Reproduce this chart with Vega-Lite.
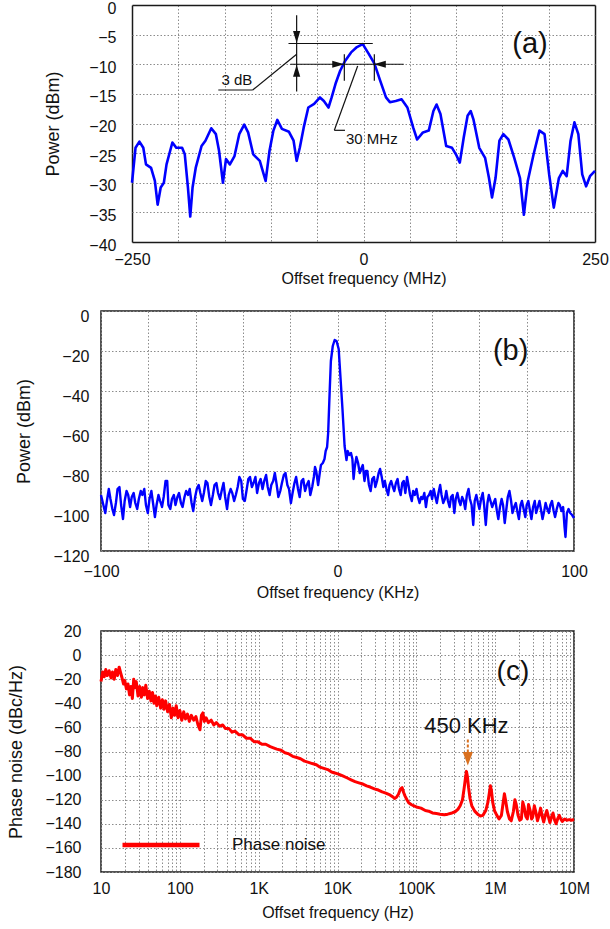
{
  "$schema": "https://vega.github.io/schema/vega-lite/v6.json",
  "padding": {"left": 7, "top": 0, "right": 3, "bottom": 4},
  "background": "white",
  "columns": 1,
  "spacing": 20,
  "resolve": {"scale": {"color": "independent", "shape": "independent"}},
  "datasets": {
    "a": [
      {"f":-250,"p":-30},{"f":-246.2,"p":-24.1},{"f":-242,"p":-23.05},{"f":-237.8,"p":-24.1},{"f":-234.9,"p":-26.9},{"f":-229.4,"p":-27.5},{"f":-225.3,"p":-29.7},{"f":-222.3,"p":-33.7},{"f":-219,"p":-30.8},{"f":-215.6,"p":-30},{"f":-212.7,"p":-26.9},{"f":-206.4,"p":-23.2},{"f":-202.2,"p":-24.1},{"f":-195.9,"p":-24.1},{"f":-193,"p":-25.2},{"f":-189.6,"p":-30.8},{"f":-187.1,"p":-35.7},{"f":-184.6,"p":-30.8},{"f":-181.2,"p":-27.5},{"f":-174.9,"p":-23.8},{"f":-170.7,"p":-22.9},{"f":-164.4,"p":-20.8},{"f":-159.4,"p":-21.8},{"f":-156,"p":-24.6},{"f":-151.8,"p":-30},{"f":-148.5,"p":-26},{"f":-144.3,"p":-26.9},{"f":-139.3,"p":-25.5},{"f":-134.2,"p":-21.8},{"f":-128.8,"p":-20.2},{"f":-124.6,"p":-21.5},{"f":-119.1,"p":-25.2},{"f":-112,"p":-26.3},{"f":-105.7,"p":-29.7},{"f":-101.5,"p":-24.6},{"f":-97.3,"p":-21.2},{"f":-93.1,"p":-19.4},{"f":-88.1,"p":-20.9},{"f":-80.5,"p":-21.4},{"f":-75.5,"p":-22.9},{"f":-72.2,"p":-26.3},{"f":-68.8,"p":-24.1},{"f":-64.6,"p":-20.7},{"f":-59.6,"p":-17.3},{"f":-53.3,"p":-16.7},{"f":-47,"p":-15.6},{"f":-42.8,"p":-16.2},{"f":-37.8,"p":-17.3},{"f":-34.4,"p":-15.6},{"f":-30.2,"p":-13.3},{"f":-25.2,"p":-11.1},{"f":-19.7,"p":-9.4},{"f":-13.4,"p":-8},{"f":-7.1,"p":-7.1},{"f":-0.8,"p":-6.6},{"f":5.5,"p":-8.2},{"f":11.8,"p":-9.9},{"f":18.1,"p":-12.8},{"f":24.3,"p":-15.6},{"f":28.5,"p":-16.4},{"f":34.8,"p":-16.2},{"f":41.1,"p":-15.9},{"f":47.4,"p":-17.3},{"f":53.7,"p":-20.7},{"f":57.9,"p":-22.7},{"f":64.2,"p":-21.5},{"f":70.5,"p":-21.2},{"f":75.5,"p":-17.9},{"f":78.9,"p":-16.8},{"f":83.1,"p":-18.4},{"f":89.3,"p":-23.8},{"f":95.6,"p":-24.1},{"f":99.8,"p":-25.2},{"f":104,"p":-26.6},{"f":108.2,"p":-22.4},{"f":112.4,"p":-18.7},{"f":115.8,"p":-17.9},{"f":118.7,"p":-19.3},{"f":125,"p":-24.1},{"f":131.3,"p":-25.8},{"f":135.5,"p":-29.2},{"f":138.8,"p":-32.5},{"f":142.6,"p":-29.2},{"f":146.8,"p":-22.9},{"f":151,"p":-21.8},{"f":156.5,"p":-22.7},{"f":162.8,"p":-25.8},{"f":169,"p":-29.2},{"f":173.2,"p":-35.4},{"f":177.4,"p":-29.7},{"f":183.7,"p":-25.2},{"f":190,"p":-21.2},{"f":195.5,"p":-21.8},{"f":200.5,"p":-28.6},{"f":205.5,"p":-34.2},{"f":211,"p":-29.2},{"f":215.2,"p":-28},{"f":219.4,"p":-28.9},{"f":223.6,"p":-22.9},{"f":227.8,"p":-19.8},{"f":232,"p":-21.8},{"f":236.2,"p":-28.6},{"f":240.4,"p":-30.6},{"f":244.6,"p":-28.9},{"f":250,"p":-28}
    ],
    "aSeg": [
      {"f":-72.2,"f2":-72.2,"p":-1.75,"p2":-14.6},
      {"f":-81,"f2":10,"p":-6.5,"p2":-6.5},
      {"f":-79,"f2":43.4,"p":-10,"p2":-10},
      {"f":-72.2,"f2":-119.7,"p":-8.3,"p2":-14.35},
      {"f":-119.7,"f2":-156.8,"p":-14.35,"p2":-14.35},
      {"f":-20.7,"f2":-20.7,"p":-8.3,"p2":-12.8},
      {"f":11.7,"f2":11.7,"p":-8.3,"p2":-12.8},
      {"f":-6.3,"f2":-31.5,"p":-10.3,"p2":-21.15},
      {"f":-31.5,"f2":-20,"p":-21.15,"p2":-21.15}
    ],
    "aArrow": [
      {"f":-72.2,"p":-5.4,"dir":"down"},
      {"f":-72.2,"p":-11.1,"dir":"up"},
      {"f":-27.3,"p":-10,"dir":"right"},
      {"f":17.6,"p":-10,"dir":"left"}
    ],
    "aText": [
      {"f":-136.8,"p":-12.6,"t":"3 dB"},
      {"f":9.0,"p":-22.6,"t":"30 MHz"}
    ],
    "b": [
      {"f":-100,"p":-92},{"f":-99,"p":-97},{"f":-98.2,"p":-101},{"f":-97.5,"p":-95},{"f":-96.7,"p":-89},{"f":-96,"p":-94},{"f":-95.2,"p":-99},{"f":-94.5,"p":-102},{"f":-93.7,"p":-96},{"f":-93,"p":-89},{"f":-92.2,"p":-88},{"f":-91.5,"p":-97},{"f":-90.7,"p":-104},{"f":-90,"p":-95},{"f":-89.2,"p":-90},{"f":-88.5,"p":-92},{"f":-87.7,"p":-98},{"f":-87,"p":-93},{"f":-86.2,"p":-91},{"f":-85.5,"p":-96},{"f":-84.7,"p":-99},{"f":-84,"p":-94},{"f":-83.2,"p":-90},{"f":-82.5,"p":-92},{"f":-81.7,"p":-89},{"f":-81,"p":-97},{"f":-80.2,"p":-101},{"f":-79.5,"p":-94},{"f":-78.7,"p":-90},{"f":-78,"p":-96},{"f":-77.2,"p":-103},{"f":-76.5,"p":-97},{"f":-75.7,"p":-92},{"f":-75,"p":-95},{"f":-74.2,"p":-98},{"f":-73.5,"p":-93},{"f":-72.7,"p":-85},{"f":-72,"p":-85},{"f":-71.5,"p":-97},{"f":-70.7,"p":-99},{"f":-70,"p":-94},{"f":-69.2,"p":-92},{"f":-68.5,"p":-97},{"f":-67.7,"p":-93},{"f":-67,"p":-91},{"f":-66.2,"p":-96},{"f":-65.5,"p":-98},{"f":-64.7,"p":-93},{"f":-64,"p":-90},{"f":-63.2,"p":-92},{"f":-62.5,"p":-89},{"f":-61.7,"p":-96},{"f":-61,"p":-100},{"f":-60.2,"p":-93},{"f":-59.5,"p":-89},{"f":-58.7,"p":-87},{"f":-58,"p":-91},{"f":-57.2,"p":-95},{"f":-56.5,"p":-91},{"f":-55.7,"p":-85},{"f":-55,"p":-86},{"f":-54.2,"p":-93},{"f":-53.5,"p":-97},{"f":-52.7,"p":-92},{"f":-52,"p":-87},{"f":-51.2,"p":-86},{"f":-50.5,"p":-91},{"f":-49.7,"p":-94},{"f":-49,"p":-90},{"f":-48.2,"p":-86},{"f":-47.5,"p":-93},{"f":-46.7,"p":-99},{"f":-46,"p":-92},{"f":-45.2,"p":-89},{"f":-44.5,"p":-91},{"f":-43.7,"p":-95},{"f":-43,"p":-92},{"f":-42.2,"p":-88},{"f":-41.5,"p":-83},{"f":-40.7,"p":-85},{"f":-40,"p":-94},{"f":-39.2,"p":-95},{"f":-38.5,"p":-90},{"f":-37.7,"p":-84},{"f":-37,"p":-83},{"f":-36.2,"p":-88},{"f":-35.5,"p":-86},{"f":-34.7,"p":-83},{"f":-34,"p":-91},{"f":-33.2,"p":-86},{"f":-32.5,"p":-84},{"f":-31.7,"p":-89},{"f":-31,"p":-85},{"f":-30.2,"p":-82},{"f":-29.5,"p":-88},{"f":-28.7,"p":-92},{"f":-28,"p":-87},{"f":-27.2,"p":-85},{"f":-26.5,"p":-81},{"f":-25.7,"p":-87},{"f":-25,"p":-93},{"f":-24.2,"p":-90},{"f":-23.5,"p":-86},{"f":-22.7,"p":-82},{"f":-22,"p":-81},{"f":-21.2,"p":-87},{"f":-20.5,"p":-89},{"f":-19.7,"p":-96},{"f":-19,"p":-91},{"f":-18.2,"p":-86},{"f":-17.5,"p":-83},{"f":-16.7,"p":-89},{"f":-16,"p":-93},{"f":-15.2,"p":-85},{"f":-14.5,"p":-84},{"f":-13.7,"p":-90},{"f":-13,"p":-87},{"f":-12.2,"p":-85},{"f":-11.5,"p":-92},{"f":-10.7,"p":-88},{"f":-10,"p":-83},{"f":-9.5,"p":-78},{"f":-9,"p":-80},{"f":-8.2,"p":-87},{"f":-7.5,"p":-81},{"f":-7,"p":-77},{"f":-6.2,"p":-76},{"f":-5.5,"p":-74},{"f":-5,"p":-70},{"f":-4.4,"p":-68},{"f":-3.95,"p":-61},{"f":-3.3,"p":-40},{"f":-2.8,"p":-25},{"f":-2,"p":-17.5},{"f":-1.2,"p":-14.5},{"f":-0.4,"p":-15},{"f":0.5,"p":-19},{"f":1.3,"p":-34},{"f":2.1,"p":-49},{"f":3,"p":-67.5},{"f":3.8,"p":-74.5},{"f":4.3,"p":-70},{"f":5,"p":-72},{"f":5.7,"p":-71},{"f":6.3,"p":-74},{"f":6.8,"p":-84},{"f":7.3,"p":-78},{"f":8,"p":-73},{"f":8.7,"p":-76},{"f":9.4,"p":-81},{"f":10,"p":-79},{"f":10.7,"p":-77},{"f":11.4,"p":-85},{"f":12,"p":-80},{"f":12.6,"p":-80},{"f":13.3,"p":-87},{"f":14,"p":-90},{"f":14.7,"p":-84},{"f":15.4,"p":-83},{"f":16,"p":-88},{"f":16.7,"p":-85},{"f":17.4,"p":-81},{"f":18,"p":-79},{"f":18.7,"p":-83},{"f":19.4,"p":-88},{"f":20,"p":-85},{"f":20.7,"p":-89},{"f":21.4,"p":-92},{"f":22,"p":-87},{"f":22.7,"p":-85},{"f":23.4,"p":-88},{"f":24,"p":-90},{"f":24.7,"p":-86},{"f":25.4,"p":-84},{"f":26,"p":-89},{"f":26.7,"p":-92},{"f":27.4,"p":-86},{"f":28,"p":-85},{"f":28.7,"p":-91},{"f":29.4,"p":-83},{"f":30,"p":-87},{"f":30.7,"p":-92},{"f":31.4,"p":-95},{"f":32,"p":-90},{"f":32.7,"p":-92},{"f":33.4,"p":-89},{"f":34,"p":-93},{"f":34.7,"p":-96},{"f":35.4,"p":-93},{"f":36,"p":-94},{"f":36.7,"p":-91},{"f":37.4,"p":-98},{"f":38,"p":-93},{"f":38.7,"p":-92},{"f":39.4,"p":-90},{"f":40,"p":-94},{"f":40.7,"p":-89},{"f":41.4,"p":-93},{"f":42,"p":-96},{"f":42.7,"p":-91},{"f":43.4,"p":-87},{"f":44,"p":-92},{"f":44.7,"p":-96},{"f":45.4,"p":-94},{"f":46,"p":-90},{"f":46.7,"p":-95},{"f":47.4,"p":-98},{"f":48,"p":-93},{"f":48.7,"p":-92},{"f":49.4,"p":-101},{"f":50,"p":-94},{"f":50.7,"p":-91},{"f":51.4,"p":-95},{"f":52,"p":-97},{"f":52.7,"p":-93},{"f":53.4,"p":-95},{"f":54,"p":-99},{"f":54.7,"p":-92},{"f":55.4,"p":-89},{"f":56,"p":-94},{"f":56.7,"p":-97},{"f":57.4,"p":-107},{"f":58,"p":-95},{"f":58.7,"p":-92},{"f":59.4,"p":-96},{"f":60,"p":-99},{"f":60.7,"p":-94},{"f":61.4,"p":-91},{"f":62,"p":-97},{"f":62.7,"p":-107},{"f":63.4,"p":-96},{"f":64,"p":-92},{"f":64.7,"p":-95},{"f":65.4,"p":-98},{"f":66,"p":-96},{"f":66.7,"p":-94},{"f":67.4,"p":-100},{"f":68,"p":-104},{"f":68.7,"p":-98},{"f":69.4,"p":-94},{"f":70,"p":-97},{"f":70.7,"p":-106},{"f":71.4,"p":-99},{"f":72,"p":-93},{"f":72.7,"p":-90},{"f":73.4,"p":-95},{"f":74,"p":-101},{"f":74.7,"p":-98},{"f":75.4,"p":-96},{"f":76,"p":-100},{"f":76.7,"p":-104},{"f":77.4,"p":-97},{"f":78,"p":-95},{"f":78.7,"p":-99},{"f":79.4,"p":-103},{"f":80,"p":-97},{"f":80.7,"p":-95},{"f":81.4,"p":-100},{"f":82,"p":-104},{"f":82.7,"p":-98},{"f":83.4,"p":-95},{"f":84,"p":-101},{"f":84.7,"p":-98},{"f":85.4,"p":-95},{"f":86,"p":-99},{"f":86.7,"p":-104},{"f":87.4,"p":-100},{"f":88,"p":-96},{"f":88.7,"p":-99},{"f":89.4,"p":-101},{"f":90,"p":-97},{"f":90.7,"p":-95},{"f":91.4,"p":-100},{"f":92,"p":-103},{"f":92.7,"p":-99},{"f":93.4,"p":-96},{"f":94,"p":-97},{"f":94.7,"p":-100},{"f":95.4,"p":-98},{"f":96,"p":-108},{"f":96.4,"p":-113},{"f":97,"p":-101},{"f":97.7,"p":-99},{"f":98.4,"p":-101},{"f":99.2,"p":-102},{"f":100,"p":-103.5}
    ],
    "c": [
      {"f":10,"p":-22},{"f":10.5,"p":-14},{"f":11,"p":-18},{"f":11.5,"p":-12},{"f":12,"p":-17},{"f":12.7,"p":-13},{"f":13.4,"p":-19},{"f":14,"p":-14},{"f":14.7,"p":-20},{"f":15.4,"p":-12},{"f":16.2,"p":-17},{"f":17,"p":-10},{"f":17.8,"p":-15},{"f":18.5,"p":-19},{"f":19.3,"p":-24},{"f":20,"p":-21},{"f":21,"p":-28},{"f":22,"p":-24},{"f":23,"p":-33},{"f":24,"p":-26},{"f":25,"p":-36},{"f":26,"p":-20},{"f":27,"p":-27},{"f":28,"p":-22},{"f":29.5,"p":-34},{"f":31,"p":-26},{"f":32.5,"p":-35},{"f":34,"p":-27},{"f":35.5,"p":-33},{"f":37,"p":-25},{"f":39,"p":-36},{"f":41,"p":-30},{"f":43,"p":-38},{"f":45,"p":-31},{"f":47,"p":-40},{"f":49,"p":-34},{"f":51,"p":-42},{"f":54,"p":-35},{"f":57,"p":-44},{"f":60,"p":-37},{"f":63,"p":-45},{"f":66,"p":-38},{"f":70,"p":-47},{"f":74,"p":-41},{"f":78,"p":-52},{"f":82,"p":-44},{"f":86,"p":-50},{"f":90,"p":-42},{"f":95,"p":-52},{"f":100,"p":-46},{"f":106,"p":-54},{"f":112,"p":-47},{"f":118,"p":-53},{"f":125,"p":-49},{"f":132,"p":-55},{"f":140,"p":-50},{"f":150,"p":-54},{"f":160,"p":-51},{"f":170,"p":-58},{"f":180,"p":-62},{"f":188,"p":-50},{"f":196,"p":-48},{"f":205,"p":-55},{"f":215,"p":-52},{"f":230,"p":-56},{"f":250,"p":-54},{"f":270,"p":-58},{"f":290,"p":-56},{"f":320,"p":-59},{"f":350,"p":-58},{"f":380,"p":-61},{"f":420,"p":-61},{"f":460,"p":-64},{"f":500,"p":-63},{"f":560,"p":-66},{"f":620,"p":-66},{"f":700,"p":-69},{"f":780,"p":-69},{"f":880,"p":-72},{"f":980,"p":-72},{"f":1100,"p":-74},{"f":1230,"p":-74},{"f":1400,"p":-76},{"f":1540,"p":-77},{"f":1700,"p":-78},{"f":1930,"p":-79},{"f":2150,"p":-81},{"f":2420,"p":-82},{"f":2700,"p":-84},{"f":3040,"p":-85},{"f":3400,"p":-86},{"f":3815,"p":-88},{"f":4300,"p":-89},{"f":4786,"p":-90},{"f":5400,"p":-91},{"f":6004,"p":-93},{"f":6700,"p":-94},{"f":7533,"p":-95},{"f":8400,"p":-97},{"f":9450,"p":-98},{"f":10500,"p":-99},{"f":11856,"p":-100.5},{"f":13300,"p":-102},{"f":14874,"p":-103.5},{"f":16700,"p":-105},{"f":18660,"p":-106},{"f":21000,"p":-107},{"f":23410,"p":-108.5},{"f":26000,"p":-109.5},{"f":29370,"p":-111},{"f":33000,"p":-112},{"f":36840,"p":-113.5},{"f":41000,"p":-114.5},{"f":46220,"p":-116},{"f":50000,"p":-117.5},{"f":53000,"p":-119},{"f":56000,"p":-118},{"f":59300,"p":-115.5},{"f":63000,"p":-111},{"f":66000,"p":-110},{"f":69000,"p":-114},{"f":72000,"p":-117},{"f":76000,"p":-120},{"f":80000,"p":-122.5},{"f":86000,"p":-124},{"f":92000,"p":-125},{"f":100000,"p":-126},{"f":114500,"p":-127},{"f":130000,"p":-129},{"f":143600,"p":-129.5},{"f":160000,"p":-131},{"f":180300,"p":-131.5},{"f":200000,"p":-132},{"f":226300,"p":-132.5},{"f":250000,"p":-132},{"f":283900,"p":-131},{"f":310000,"p":-130},{"f":336700,"p":-128},{"f":360000,"p":-125},{"f":385000,"p":-120},{"f":405000,"p":-110},{"f":420000,"p":-102},{"f":432000,"p":-96.5},{"f":445000,"p":-101},{"f":460000,"p":-110},{"f":480000,"p":-119},{"f":505000,"p":-125},{"f":550000,"p":-129.5},{"f":600000,"p":-132},{"f":650000,"p":-133.5},{"f":700000,"p":-133},{"f":760000,"p":-129},{"f":810000,"p":-122},{"f":850000,"p":-113},{"f":870000,"p":-108.5},{"f":895000,"p":-112},{"f":930000,"p":-122},{"f":980000,"p":-129},{"f":1050000,"p":-133},{"f":1120000,"p":-136},{"f":1200000,"p":-133},{"f":1260000,"p":-123},{"f":1310000,"p":-115},{"f":1360000,"p":-121},{"f":1430000,"p":-130},{"f":1520000,"p":-136},{"f":1600000,"p":-137.5},{"f":1700000,"p":-130},{"f":1780000,"p":-120},{"f":1850000,"p":-124},{"f":1950000,"p":-133},{"f":2050000,"p":-137},{"f":2150000,"p":-136},{"f":2240000,"p":-122},{"f":2330000,"p":-126},{"f":2450000,"p":-134},{"f":2560000,"p":-136},{"f":2650000,"p":-124},{"f":2780000,"p":-129},{"f":2900000,"p":-136},{"f":3000000,"p":-134},{"f":3140000,"p":-125},{"f":3300000,"p":-131},{"f":3440000,"p":-137.5},{"f":3600000,"p":-133},{"f":3770000,"p":-127},{"f":3950000,"p":-134},{"f":4130000,"p":-138.5},{"f":4320000,"p":-133},{"f":4520000,"p":-129},{"f":4730000,"p":-134},{"f":4950000,"p":-139},{"f":5200000,"p":-134},{"f":5420000,"p":-131},{"f":5680000,"p":-137},{"f":5930000,"p":-140},{"f":6200000,"p":-136},{"f":6500000,"p":-133},{"f":6800000,"p":-136},{"f":7100000,"p":-138},{"f":7600000,"p":-136},{"f":8100000,"p":-137},{"f":8700000,"p":-136.5},{"f":9300000,"p":-137},{"f":10000000,"p":-136.5}
    ]
  },
  "concat": [
    {
      "width": 494,
      "height": 237,
      "view": {"stroke": null},
      "layer": [
        {
          "data": {"name": "a"},
          "mark": {"type": "line", "color": "#0000ff", "strokeWidth": 2.6, "strokeJoin": "round"},
          "encoding": {
            "x": {"field": "f", "type": "quantitative", "scale": {"domain": [-250, 250], "range": [31, 494], "nice": false, "zero": false},
              "axis": {"title": "Offset frequency (MHz)", "values": [-250,-200,-150,-100,-50,0,50,100,150,200,250], "tickCount": 50,
                "labelExpr": "datum.value == -250 || datum.value == 0 || datum.value == 250 ? datum.label : ''", "labelPadding": 9, "titlePadding": 3.5, "labelOverlap": false,
                "gridDash": {"condition": {"test": "abs(datum.value) == 250", "value": []}, "value": [1.5, 2]},
                "gridColor": {"condition": {"test": "abs(datum.value) == 250", "value": "#1a1a1a"}, "value": "#8c8c8c"},
                "gridWidth": {"condition": {"test": "abs(datum.value) == 250", "value": 1.5}, "value": 1}}},
            "y": {"field": "p", "type": "quantitative", "scale": {"domain": [-40, 0], "nice": false, "zero": false},
              "axis": {"title": "Power (dBm)", "offset": -31, "values": [-40,-35,-30,-25,-20,-15,-10,-5,0], "tickCount": 50, "labelPadding": 16, "labelOffset": 3, "titlePadding": 26, "labelOverlap": false,
                "gridDash": {"condition": {"test": "datum.value == 0 || datum.value == -40", "value": []}, "value": [1.5, 2]},
                "gridColor": {"condition": {"test": "datum.value == 0 || datum.value == -40", "value": "#1a1a1a"}, "value": "#8c8c8c"},
                "gridWidth": {"condition": {"test": "datum.value == 0 || datum.value == -40", "value": 1.5}, "value": 1}}}
          }
        },
        {
          "data": {"name": "aSeg"},
          "mark": {"type": "rule", "color": "#111111", "strokeWidth": 1.2},
          "encoding": {
            "x": {"field": "f", "type": "quantitative"},
            "x2": {"field": "f2"},
            "y": {"field": "p", "type": "quantitative"},
            "y2": {"field": "p2"}
          }
        },
        {
          "data": {"name": "aArrow"},
          "mark": {"type": "point", "filled": true, "size": 144, "color": "#111111", "opacity": 1},
          "encoding": {
            "x": {"field": "f", "type": "quantitative"},
            "y": {"field": "p", "type": "quantitative"},
            "shape": {"field": "dir", "type": "nominal", "legend": null,
              "scale": {"domain": ["down", "up", "right", "left"], "range": ["M-0.6,-1L0.6,-1L0,1Z", "M-0.6,1L0.6,1L0,-1Z", "M-1,-0.6L-1,0.6L1,0Z", "M1,-0.6L1,0.6L-1,0Z"]}}
          }
        },
        {
          "data": {"name": "aText"},
          "mark": {"type": "text", "fontSize": 15, "color": "#111111", "font": "Liberation Sans", "baseline": "middle", "align": "center"},
          "encoding": {
            "x": {"field": "f", "type": "quantitative"},
            "y": {"field": "p", "type": "quantitative"},
            "text": {"field": "t"}
          }
        },
        {
          "data": {"values": [{"f": 179.8, "p": -6.5, "t": "(a)"}]},
          "mark": {"type": "text", "fontSize": 29, "color": "#111111", "font": "Liberation Sans", "baseline": "middle", "align": "center"},
          "encoding": {
            "x": {"field": "f", "type": "quantitative"},
            "y": {"field": "p", "type": "quantitative"},
            "text": {"field": "t"}
          }
        }
      ]
    },
    {
      "width": 473,
      "height": 240,
      "layer": [
        {
          "data": {"name": "b"},
          "mark": {"type": "line", "color": "#0000ff", "strokeWidth": 2.4, "strokeJoin": "round"},
          "encoding": {
            "x": {"field": "f", "type": "quantitative", "scale": {"domain": [-100, 100], "nice": false, "zero": false},
              "axis": {"title": "Offset frequency (KHz)", "values": [-100,-80,-60,-40,-20,0,20,40,60,80,100], "tickCount": 50, "labelExpr": "datum.value == -100 || datum.value == 0 || datum.value == 100 ? datum.label : ''", "labelPadding": 12.7, "titlePadding": 5, "labelOverlap": false}},
            "y": {"field": "p", "type": "quantitative", "scale": {"domain": [-120, 0], "nice": false, "zero": false},
              "axis": {"title": "Power (dBm)", "values": [-120,-100,-80,-60,-40,-20,0], "tickCount": 50, "labelPadding": 12, "labelOffset": 5, "titlePadding": 19, "labelOverlap": false}}
          }
        },
        {
          "data": {"values": [{"f": 73.2, "p": -20, "t": "(b)"}]},
          "mark": {"type": "text", "fontSize": 29, "color": "#111111", "font": "Liberation Sans", "baseline": "middle", "align": "center"},
          "encoding": {
            "x": {"field": "f", "type": "quantitative"},
            "y": {"field": "p", "type": "quantitative"},
            "text": {"field": "t"}
          }
        }
      ]
    },
    {
      "width": 473,
      "height": 241,
      "layer": [
        {
          "data": {"name": "c"},
          "mark": {"type": "line", "strokeWidth": 3, "strokeJoin": "round"},
          "encoding": {
            "x": {"field": "f", "type": "quantitative", "scale": {"type": "log", "domain": [10, 10000000], "nice": false},
              "axis": {"title": "Offset frequency (Hz)", "tickCount": 100, "values": [10,20,30,40,50,60,70,80,90,100,200,300,400,500,600,700,800,900,1000,2000,3000,4000,5000,6000,7000,8000,9000,10000,20000,30000,40000,50000,60000,70000,80000,90000,100000,200000,300000,400000,500000,600000,700000,800000,900000,1000000,2000000,3000000,4000000,5000000,6000000,7000000,8000000,9000000,10000000],
                "labelExpr": "datum.value == 10 ? '10' : datum.value == 100 ? '100' : datum.value == 1000 ? '1K' : datum.value == 10000 ? '10K' : datum.value == 100000 ? '100K' : datum.value == 1000000 ? '1M' : datum.value == 10000000 ? '10M' : ''",
                "labelPadding": 8, "titlePadding": 8, "labelOverlap": false}},
            "y": {"field": "p", "type": "quantitative", "scale": {"domain": [-180, 20], "nice": false, "zero": false},
              "axis": {"title": "Phase noise (dBc/Hz)", "values": [-180,-160,-140,-120,-100,-80,-60,-40,-20,0,20], "tickCount": 50, "labelPadding": 20, "titlePadding": 19, "labelOverlap": false}},
            "color": {"datum": "Phase noise", "type": "nominal", "scale": {"range": ["#ff0000"]},
              "legend": {"orient": "none", "legendX": 19, "legendY": 173, "title": null, "symbolType": "stroke", "symbolSize": 5929, "symbolStrokeWidth": 4.5, "labelFontSize": 17, "labelOffset": 30, "padding": 0, "labelFont": "Liberation Sans", "labelColor": "#111111"}}
          }
        },
        {
          "data": {"values": [{"f": 450000, "p": -70, "p2": -80.4}]},
          "mark": {"type": "rule", "color": "#d9701f", "strokeWidth": 2, "strokeDash": [3, 2]},
          "encoding": {
            "x": {"field": "f", "type": "quantitative"},
            "y": {"field": "p", "type": "quantitative"},
            "y2": {"field": "p2"}
          }
        },
        {
          "data": {"values": [{"f": 450000, "p": -86}]},
          "mark": {"type": "point", "filled": true, "size": 182, "color": "#d9701f", "opacity": 1, "shape": "M-0.75,-1L0.75,-1L0,1Z"},
          "encoding": {
            "x": {"field": "f", "type": "quantitative"},
            "y": {"field": "p", "type": "quantitative"}
          }
        },
        {
          "data": {"values": [{"f": 431700, "p": -58.8, "t": "450 KHz"}]},
          "mark": {"type": "text", "fontSize": 22, "color": "#111111", "font": "Liberation Sans", "baseline": "middle", "align": "center"},
          "encoding": {
            "x": {"field": "f", "type": "quantitative"},
            "y": {"field": "p", "type": "quantitative"},
            "text": {"field": "t"}
          }
        },
        {
          "data": {"values": [{"f": 1680000, "p": -14.3, "t": "(c)"}]},
          "mark": {"type": "text", "fontSize": 28, "color": "#111111", "font": "Liberation Sans", "baseline": "middle", "align": "center"},
          "encoding": {
            "x": {"field": "f", "type": "quantitative"},
            "y": {"field": "p", "type": "quantitative"},
            "text": {"field": "t"}
          }
        }
      ]
    }
  ],
  "config": {
    "font": "Liberation Sans",
    "view": {"stroke": "#1a1a1a", "strokeWidth": 1.5},
    "axis": {
      "domain": false,
      "ticks": false,
      "grid": true,
      "gridColor": "#8c8c8c",
      "gridDash": [1.5, 2],
      "gridWidth": 1,
      "labelFont": "Liberation Sans",
      "labelFontSize": 16,
      "labelColor": "#111111",
      "labelFlush": false,
      "titleFont": "Liberation Sans",
      "titleFontWeight": "normal",
      "titleColor": "#111111"
    },
    "axisX": {"titleFontSize": 16},
    "axisY": {"titleFontSize": 18}
  }
}
